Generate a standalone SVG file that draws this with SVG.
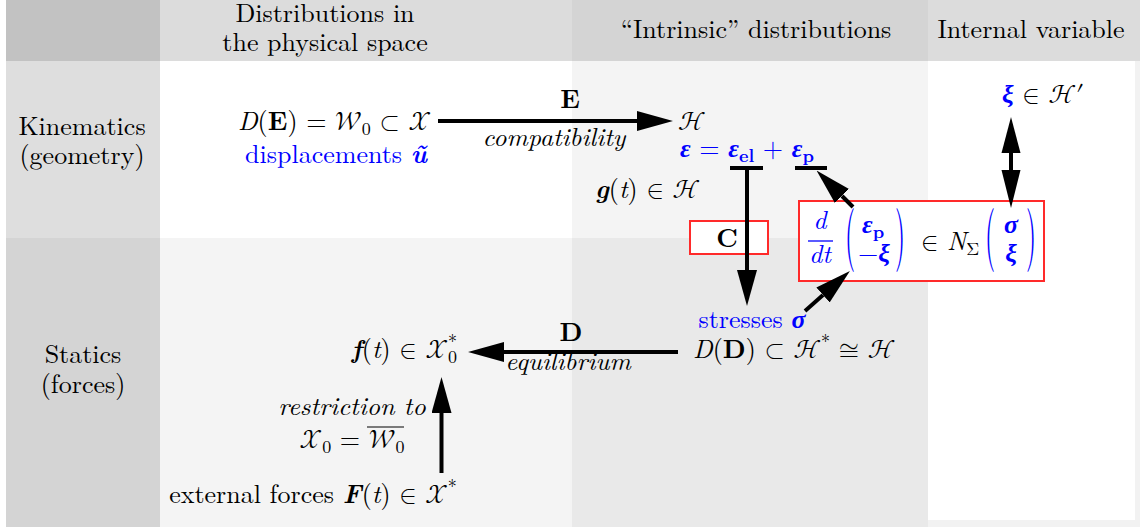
<svg xmlns="http://www.w3.org/2000/svg" width="1140" height="529" viewBox="0 0 1140 529">
<defs>
<style>
text{font-family:Latin Modern Roman,Latin Modern Math,Liberation Serif,serif;font-size:26px;fill:#000}
.it{font-style:italic}
.bf{font-weight:bold}
.bi{font-weight:bold;font-style:italic}
.gr{font-family:Liberation Serif,DejaVu Serif,serif}
.blue{fill:#0000ff}
.sc{font-family:Latin Modern Math,DejaVu Serif,serif;font-style:normal;font-weight:normal}
.op{font-family:Latin Modern Math,DejaVu Serif,serif}
.sub{font-size:18px}
.mid{text-anchor:middle}
.end{text-anchor:end}
.box{fill:#fff;stroke:#ff2a2a;stroke-width:2}
.conn{stroke:#000;stroke-width:4;fill:none}
</style>
<marker id="ah" viewBox="0 0 36 20" refX="0" refY="10" markerWidth="36" markerHeight="20" markerUnits="userSpaceOnUse" orient="auto">
<path d="M0,0 L36,10 L0,20 z" fill="#000"/>
</marker>
</defs>
<g id="background">
<rect x="0" y="0" width="1140" height="529" fill="#fff"/>
<rect x="6" y="0" width="154" height="61" fill="#c2c2c2"/>
<rect x="160" y="0" width="412" height="61" fill="#dcdcdc"/>
<rect x="572" y="0" width="356" height="61" fill="#d4d4d4"/>
<rect x="928" y="0" width="212" height="61" fill="#dcdcdc"/>
<rect x="6" y="61" width="154" height="177" fill="#dedede"/>
<rect x="6" y="238" width="154" height="289" fill="#d4d4d4"/>
<rect x="160" y="238" width="412" height="289" fill="#f4f4f4"/>
<rect x="572" y="61" width="356" height="177" fill="#f4f4f4"/>
<rect x="572" y="238" width="356" height="289" fill="#e9e9e9"/>
<rect x="928" y="61" width="212" height="466" fill="#f2f2f2"/>
<rect x="928" y="61" width="207" height="459" fill="#fff"/>
</g>
<g font-family="Latin Modern Roman, Latin Modern Math, Liberation Serif, serif" font-size="26">
<g id="headers">
<text class="mid" x="325" y="22">Distributions in</text>
<text class="mid" x="325" y="51">the physical space</text>
<text class="mid" x="756" y="38">“Intrinsic” distributions</text>
<text class="mid" x="1031" y="38">Internal variable</text>
<text class="mid" x="82" y="135">Kinematics</text>
<text class="mid" x="82" y="164">(geometry)</text>
<text class="mid" x="83" y="363">Statics</text>
<text class="mid" x="83" y="393">(forces)</text>
</g>
<g id="node-displacements">
<text class="end" x="431" y="130"><tspan class="it">D</tspan>(<tspan class="bf">E</tspan>) <tspan class="op">=</tspan> <tspan class="sc">𝒲</tspan><tspan class="sub" dy="5">0</tspan><tspan dy="-5"> </tspan><tspan class="op">⊂</tspan> <tspan class="sc">𝒳</tspan></text>
<text class="mid blue" x="336" y="163">displacements <tspan class="bi">ũ</tspan></text>
</g>
<g id="node-H">
<text x="678" y="130"><tspan class="sc">ℋ</tspan></text>
</g>
<g id="node-strain">
<text class="blue" x="680" y="157"><tspan class="bi gr">ε</tspan> <tspan class="op">=</tspan> <tspan class="bi gr">ε</tspan><tspan class="sub bf" dy="5">el</tspan><tspan dy="-5"> </tspan><tspan class="op">+</tspan> <tspan class="bi gr">ε</tspan><tspan class="sub bf" dy="5">p</tspan></text>
</g>
<g id="node-g">
<text x="595" y="198"><tspan class="bi">g</tspan>(<tspan class="it">t</tspan>) <tspan class="op">∈</tspan> <tspan class="sc">ℋ</tspan></text>
</g>
<g id="node-C">
<rect class="box" x="690" y="221" width="78" height="33"/>
<text class="mid bf" x="727" y="247">C</text>
</g>
<g id="node-flow-rule">
<rect class="box" x="799" y="201" width="245" height="80"/>
<text class="mid it blue" x="820" y="229">d</text>
<line x1="808" y1="241" x2="833" y2="241" stroke="#0000ff" stroke-width="1.3"/>
<text class="mid it blue" x="820" y="263">dt</text>
<text class="blue" transform="translate(845,256) scale(1,2.45)">(</text>
<text class="blue" x="862" y="233"><tspan class="bi gr">ε</tspan><tspan class="sub bf" dy="5">p</tspan></text>
<text class="blue" x="858" y="262"><tspan class="op">−</tspan><tspan class="bi gr">ξ</tspan></text>
<text class="blue" transform="translate(895,256) scale(1,2.45)">)</text>
<text x="921" y="250"><tspan class="op">∈</tspan> <tspan class="it">N</tspan><tspan class="sub op" dy="5">Σ</tspan></text>
<text class="blue" transform="translate(985,256) scale(1,2.45)">(</text>
<text class="mid bi gr blue" x="1011" y="233">σ</text>
<text class="mid bi gr blue" x="1011" y="262">ξ</text>
<text class="blue" transform="translate(1026,256) scale(1,2.45)">)</text>
</g>
<g id="node-xi">
<text x="1002" y="103"><tspan class="bi gr blue">ξ</tspan> <tspan class="op">∈</tspan> <tspan class="sc">ℋ′</tspan></text>
</g>
<g id="node-stresses">
<text class="mid blue" x="752" y="328">stresses <tspan class="bi gr">σ</tspan></text>
<text x="693" y="358"><tspan class="it">D</tspan>(<tspan class="bf">D</tspan>) <tspan class="op">⊂</tspan> <tspan class="sc">ℋ</tspan><tspan class="sub" dy="-10">*</tspan><tspan dy="10"> </tspan><tspan class="op">≅</tspan> <tspan class="sc">ℋ</tspan></text>
</g>
<g id="node-f">
<text class="end" x="457" y="358"><tspan class="bi">f</tspan>(<tspan class="it">t</tspan>) <tspan class="op">∈</tspan> <tspan class="sc">𝒳</tspan><tspan class="sub" dy="5">0</tspan><tspan class="sub" dx="-9" dy="-15">*</tspan></text>
</g>
<g id="node-F">
<text class="mid" x="313" y="503">external forces <tspan class="bi">F</tspan>(<tspan class="it">t</tspan>) <tspan class="op">∈</tspan> <tspan class="sc">𝒳</tspan><tspan class="sub" dy="-10">*</tspan></text>
</g>
<g id="connectors">
<path class="conn" d="M438,121 H637" marker-end="url(#ah)"/>
<text class="mid bf" x="570" y="108">E</text>
<text class="mid it" x="554" y="146">compatibility</text>
<path class="conn" d="M730,168 H763"/>
<path class="conn" d="M747,168 V270" marker-end="url(#ah)"/>
<path class="conn" d="M795,168 H827"/>
<path class="conn" d="M853,207 L842,196" marker-end="url(#ah)"/>
<path class="conn" d="M805,311 L823,295" marker-end="url(#ah)"/>
<path class="conn" d="M1011,153 V172"/>
<path fill="#000" d="M1011,117 L1020.5,153 L1001.5,153 z"/>
<path fill="#000" d="M1011,208 L1020.5,170 L1001.5,170 z"/>
<path class="conn" d="M678,352 H504" marker-end="url(#ah)"/>
<text class="mid bf" x="571" y="341">D</text>
<text class="mid it" x="568" y="370">equilibrium</text>
<path class="conn" d="M441.5,473 V413" marker-end="url(#ah)"/>
<text class="mid it" x="352" y="415">restriction to</text>
<text class="mid" x="352" y="448"><tspan class="sc">𝒳</tspan><tspan class="sub" dy="5">0</tspan><tspan dy="-5"> </tspan><tspan class="op">=</tspan> <tspan class="sc">𝒲</tspan><tspan class="sub" dy="5">0</tspan></text>
<line x1="367" y1="427" x2="404" y2="427" stroke="#000" stroke-width="1.2"/>
</g>
</g>
</svg>
